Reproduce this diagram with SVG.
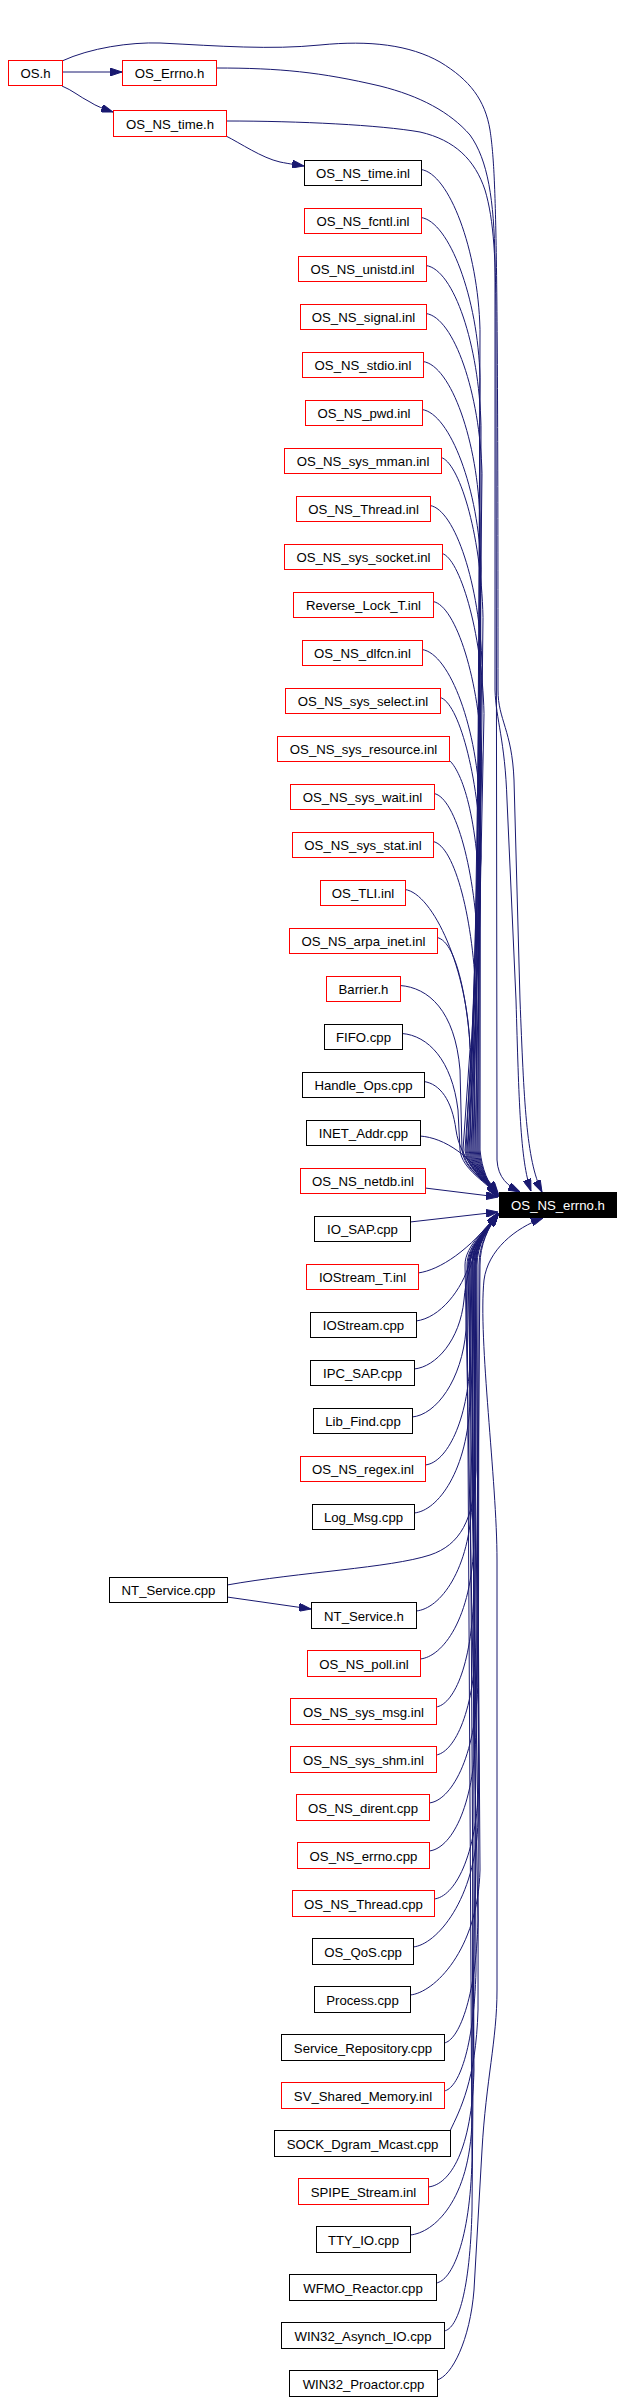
<svg xmlns="http://www.w3.org/2000/svg" width="623" height="2402" viewBox="0 0 623 2402">
<defs>
<style>
.r{fill:#fff;stroke:#ff0000;stroke-width:1}
.b{fill:#fff;stroke:#000;stroke-width:1}
.k{fill:#000;stroke:#000;stroke-width:1}
text{font-family:"Liberation Sans",Arial,Helvetica,sans-serif;font-size:13.2px;text-anchor:middle;fill:#000}
.w{fill:#fff}
.e path{fill:none;stroke:#191970;stroke-width:1;marker-end:url(#a)}
</style>
<marker id="a" viewBox="0 0 12 8" refX="12" refY="4" markerWidth="12" markerHeight="8" markerUnits="userSpaceOnUse" orient="auto"><path d="M0,0 L12,4 L0,8 z" fill="#191970" stroke="#191970" stroke-width="1"/></marker>
</defs>
<rect width="623" height="2402" fill="#fff"/>
<g class="e" id="edges">
<path d="M62,72 L122,72"/>
<path d="M62,86 C72,90 80,97 90,102 C96,106 104,109 113,112"/>
<path d="M226,136 C240,143 262,158 280,162 C290,164 298,165 304,166"/>
<path d="M227,1597 L311,1609"/>
<path d="M62,61 C90,48 130,42 160,43 C220,46 270,50 320,45 C370,40 410,45 440,62 C470,80 485,100 490,130 C496,170 498,230 498,690 C498,720 512,730 514,780 L520,1000 C524,1100 526,1160 542,1192"/>
<path d="M216,68 C280,68 320,72 380,86 C420,96 450,112 470,135 C488,160 494,200 495,260 L495,690 C496,720 505,740 507,800 L516,1000 C519,1100 520,1160 531,1191"/>
<path d="M226,121 C300,121 380,125 420,132 C455,140 475,160 485,190 C494,220 496,260 496,330 L497,1160 C498,1178 508,1186 520,1192"/>
<path d="M421,169.5 C449,173.5 478,249.5 480,329.5 L478,1150 C480,1170 488,1183 498,1195"/>
<path d="M421,217.5 C449,221.5 478,297.5 480,377.5 L476,1150 C478,1170 488,1183 498,1194"/>
<path d="M426,265.5 C454,269.5 479,345.5 481,425.5 L480,1150 C482,1170 488,1183 498,1196"/>
<path d="M426,313.5 C454,317.5 480,393.5 482,473.5 L474,1150 C476,1170 488,1183 498,1195"/>
<path d="M423,361.5 C451,365.5 478,441.5 480,521.5 L479,1150 C481,1170 488,1183 498,1197"/>
<path d="M422,409.5 C450,413.5 479,489.5 481,569.5 L472,1150 C474,1170 488,1183 498,1194"/>
<path d="M441,457.5 C458,461.5 481,530 483,617.5 L477,1150 C479,1170 488,1183 498,1196"/>
<path d="M430,505.5 C455,509.5 480,585.5 482,665.5 L470,1150 C472,1170 488,1183 498,1195"/>
<path d="M442,553.5 C459,557.5 482,630 484,713.5 L475,1150 C477,1170 488,1183 498,1197"/>
<path d="M433,601.5 C456,605.5 480,681.5 482,761.5 L468,1150 C470,1170 488,1183 498,1194"/>
<path d="M422,649.5 C450,653.5 478,729.5 480,809.5 L473,1150 C475,1170 488,1183 498,1196"/>
<path d="M440,697.5 C458,701.5 479,775 481,857.5 L466,1150 C468,1170 488,1183 498,1195"/>
<path d="M449,760 C458,768 476,800 480,900 L471,1150 C473,1170 488,1183 498,1197"/>
<path d="M434,793.5 C456,797.5 476,873.5 478,953.5 L465,1150 C467,1170 488,1183 498,1194"/>
<path d="M433,841.5 C455,845.5 474,921.5 476,1001.5 L469,1150 C471,1170 488,1183 498,1196"/>
<path d="M405,889.5 C433,893.5 468,969.5 470,1049.5 L463,1150 C465,1170 488,1183 498,1195"/>
<path d="M437,937.5 C458,941.5 470,1010 472,1080 L467,1150 C469,1170 488,1183 498,1197"/>
<path d="M400,985.5 C428,987.5 455,1010 460,1070 L462,1150 C464,1170 488,1183 498,1194"/>
<path d="M402,1033.5 C428,1035.5 452,1060 458,1110 L460,1150 C462,1170 488,1183 498,1196"/>
<path d="M424,1081.5 C440,1084 452,1100 456,1130 C460,1160 485,1182 498,1195"/>
<path d="M420,1136 C445,1138 470,1155 498,1193"/>
<path d="M425,1188 L498,1197"/>
<path d="M410,1222 L498,1212"/>
<path d="M418,1273 C440,1270 470,1250 498,1213"/>
<path d="M416,1321 C440,1318 462,1290 470,1262 C476,1240 488,1226 498,1214"/>
<path d="M414,1369 C436,1367 460,1340 464,1300 C467,1260 486,1228 498,1214"/>
<path d="M412,1417 C436,1415 462,1380 466,1330 L467,1275 C468,1245 488,1228 498,1215"/>
<path d="M425,1465 C447,1463 468,1420 470,1360 L470,1265 C470,1245 488,1228 498,1213"/>
<path d="M414,1513 C438,1511 468,1470 470,1400 L472,1265 C472,1245 488,1228 498,1214"/>
<path d="M227,1585 C300,1572 390,1568 430,1555 C460,1545 474,1520 476,1470 L475,1265 C475,1245 488,1228 498,1215"/>
<path d="M416,1611 C440,1609 470,1570 472,1500 L474,1265 C474,1245 488,1228 498,1213"/>
<path d="M420,1659 C442,1657 472,1620 474,1540 L476,1265 C476,1245 488,1228 498,1214"/>
<path d="M436,1707 C452,1705 472,1670 474,1590 L472,1265 C472,1245 488,1228 498,1215"/>
<path d="M436,1755 C452,1753 474,1718 476,1640 L474,1265 C474,1245 488,1228 498,1213"/>
<path d="M429,1803 C450,1801 476,1760 478,1680 L477,1265 C477,1245 488,1228 498,1214"/>
<path d="M429,1851 C450,1849 474,1810 476,1730 L470,1265 C470,1245 488,1228 498,1215"/>
<path d="M434,1899 C454,1897 477,1858 479,1780 L473,1265 C473,1245 488,1228 498,1213"/>
<path d="M413,1947 C436,1945 476,1900 478,1820 L468,1265 C468,1245 488,1228 498,1214"/>
<path d="M410,1995 C434,1993 478,1950 480,1870 L476,1265 C476,1245 488,1228 498,1215"/>
<path d="M444,2043 C458,2041 476,2000 478,1920 L465,1265 C465,1245 488,1228 498,1213"/>
<path d="M444,2091 C458,2089 474,2050 476,1970 L472,1265 C472,1245 488,1228 498,1214"/>
<path d="M450,2131 C460,2110 476,2080 478,2010 L479,1265 C479,1245 488,1228 498,1215"/>
<path d="M428,2187 C450,2185 472,2150 474,2070 L469,1265 C469,1245 488,1228 498,1213"/>
<path d="M410,2235 C434,2233 470,2200 472,2120 L475,1265 C475,1245 488,1228 498,1214"/>
<path d="M436,2283 C452,2281 470,2240 472,2160 L467,1265 C467,1245 488,1228 498,1215"/>
<path d="M444,2331 C458,2329 470,2290 472,2210 L480,1265 C480,1245 488,1228 498,1213"/>
<path d="M437,2380 C452,2376 470,2340 474,2290 L482,2150 C486,2080 497,2040 497,1990 L497,1560 C497,1480 478,1340 484,1280 C488,1250 515,1228 543,1218"/>
</g>
<g id="n_os_h"><rect class="r" x="8.5" y="60.5" width="54" height="25"/><text x="35.5" y="78">OS.h</text></g>
<g id="n_os_errno_h"><rect class="r" x="122.5" y="60.5" width="94" height="25"/><text x="169.5" y="78">OS_Errno.h</text></g>
<g id="n_os_ns_time_h"><rect class="r" x="113.5" y="110.5" width="113" height="26"/><text x="170" y="128.5">OS_NS_time.h</text></g>
<g id="n_time_inl"><rect class="b" x="304.5" y="160.5" width="117" height="25"/><text x="363" y="178">OS_NS_time.inl</text></g>
<g id="n_fcntl"><rect class="r" x="304.5" y="208.5" width="117" height="25"/><text x="363" y="226">OS_NS_fcntl.inl</text></g>
<g id="n_unistd"><rect class="r" x="298.5" y="256.5" width="128" height="25"/><text x="362.5" y="274">OS_NS_unistd.inl</text></g>
<g id="n_signal"><rect class="r" x="300.5" y="304.5" width="126" height="25"/><text x="363.5" y="322">OS_NS_signal.inl</text></g>
<g id="n_stdio"><rect class="r" x="302.5" y="352.5" width="121" height="25"/><text x="363" y="370">OS_NS_stdio.inl</text></g>
<g id="n_pwd"><rect class="r" x="305.5" y="400.5" width="117" height="25"/><text x="364" y="418">OS_NS_pwd.inl</text></g>
<g id="n_sys_mman"><rect class="r" x="284.5" y="448.5" width="157" height="25"/><text x="363" y="466">OS_NS_sys_mman.inl</text></g>
<g id="n_thread_inl"><rect class="r" x="296.5" y="496.5" width="134" height="25"/><text x="363.5" y="514">OS_NS_Thread.inl</text></g>
<g id="n_sys_socket"><rect class="r" x="284.5" y="544.5" width="158" height="25"/><text x="363.5" y="562">OS_NS_sys_socket.inl</text></g>
<g id="n_reverse_lock"><rect class="r" x="293.5" y="592.5" width="140" height="25"/><text x="363.5" y="610">Reverse_Lock_T.inl</text></g>
<g id="n_dlfcn"><rect class="r" x="302.5" y="640.5" width="120" height="25"/><text x="362.5" y="658">OS_NS_dlfcn.inl</text></g>
<g id="n_sys_select"><rect class="r" x="285.5" y="688.5" width="155" height="25"/><text x="363" y="706">OS_NS_sys_select.inl</text></g>
<g id="n_sys_resource"><rect class="r" x="277.5" y="736.5" width="172" height="25"/><text x="363.5" y="754">OS_NS_sys_resource.inl</text></g>
<g id="n_sys_wait"><rect class="r" x="290.5" y="784.5" width="144" height="25"/><text x="362.5" y="802">OS_NS_sys_wait.inl</text></g>
<g id="n_sys_stat"><rect class="r" x="292.5" y="832.5" width="141" height="25"/><text x="363" y="850">OS_NS_sys_stat.inl</text></g>
<g id="n_tli"><rect class="r" x="320.5" y="880.5" width="85" height="25"/><text x="363" y="898">OS_TLI.inl</text></g>
<g id="n_arpa_inet"><rect class="r" x="289.5" y="928.5" width="148" height="25"/><text x="363.5" y="946">OS_NS_arpa_inet.inl</text></g>
<g id="n_barrier"><rect class="r" x="326.5" y="976.5" width="74" height="25"/><text x="363.5" y="994">Barrier.h</text></g>
<g id="n_fifo"><rect class="b" x="324.5" y="1024.5" width="78" height="25"/><text x="363.5" y="1042">FIFO.cpp</text></g>
<g id="n_handle_ops"><rect class="b" x="302.5" y="1072.5" width="122" height="25"/><text x="363.5" y="1090">Handle_Ops.cpp</text></g>
<g id="n_inet_addr"><rect class="b" x="306.5" y="1120.5" width="114" height="25"/><text x="363.5" y="1138">INET_Addr.cpp</text></g>
<g id="n_netdb"><rect class="r" x="300.5" y="1168.5" width="125" height="25"/><text x="363" y="1186">OS_NS_netdb.inl</text></g>
<g id="n_io_sap"><rect class="b" x="314.5" y="1216.5" width="96" height="25"/><text x="362.5" y="1234">IO_SAP.cpp</text></g>
<g id="n_iostream_t"><rect class="r" x="306.5" y="1264.5" width="112" height="25"/><text x="362.5" y="1282">IOStream_T.inl</text></g>
<g id="n_iostream"><rect class="b" x="310.5" y="1312.5" width="106" height="25"/><text x="363.5" y="1330">IOStream.cpp</text></g>
<g id="n_ipc_sap"><rect class="b" x="310.5" y="1360.5" width="104" height="25"/><text x="362.5" y="1378">IPC_SAP.cpp</text></g>
<g id="n_lib_find"><rect class="b" x="313.5" y="1408.5" width="99" height="25"/><text x="363" y="1426">Lib_Find.cpp</text></g>
<g id="n_regex"><rect class="r" x="300.5" y="1456.5" width="125" height="25"/><text x="363" y="1474">OS_NS_regex.inl</text></g>
<g id="n_log_msg"><rect class="b" x="312.5" y="1504.5" width="102" height="25"/><text x="363.5" y="1522">Log_Msg.cpp</text></g>
<g id="n_nt_service_cpp"><rect class="b" x="109.5" y="1577.5" width="118" height="25"/><text x="168.5" y="1595">NT_Service.cpp</text></g>
<g id="n_nt_service_h"><rect class="b" x="311.5" y="1602.5" width="105" height="26"/><text x="364" y="1620.5">NT_Service.h</text></g>
<g id="n_poll"><rect class="r" x="307.5" y="1650.5" width="113" height="26"/><text x="364" y="1668.5">OS_NS_poll.inl</text></g>
<g id="n_sys_msg"><rect class="r" x="290.5" y="1698.5" width="146" height="26"/><text x="363.5" y="1716.5">OS_NS_sys_msg.inl</text></g>
<g id="n_sys_shm"><rect class="r" x="290.5" y="1746.5" width="146" height="26"/><text x="363.5" y="1764.5">OS_NS_sys_shm.inl</text></g>
<g id="n_dirent"><rect class="r" x="296.5" y="1794.5" width="133" height="26"/><text x="363" y="1812.5">OS_NS_dirent.cpp</text></g>
<g id="n_errno_cpp"><rect class="r" x="297.5" y="1842.5" width="132" height="26"/><text x="363.5" y="1860.5">OS_NS_errno.cpp</text></g>
<g id="n_thread_cpp"><rect class="r" x="292.5" y="1890.5" width="142" height="26"/><text x="363.5" y="1908.5">OS_NS_Thread.cpp</text></g>
<g id="n_qos"><rect class="b" x="312.5" y="1938.5" width="101" height="26"/><text x="363" y="1956.5">OS_QoS.cpp</text></g>
<g id="n_process"><rect class="b" x="314.5" y="1986.5" width="96" height="26"/><text x="362.5" y="2004.5">Process.cpp</text></g>
<g id="n_service_repo"><rect class="b" x="281.5" y="2034.5" width="163" height="26"/><text x="363" y="2052.5">Service_Repository.cpp</text></g>
<g id="n_sv_shared"><rect class="r" x="281.5" y="2082.5" width="163" height="26"/><text x="363" y="2100.5">SV_Shared_Memory.inl</text></g>
<g id="n_sock_dgram"><rect class="b" x="274.5" y="2130.5" width="176" height="26"/><text x="362.5" y="2148.5">SOCK_Dgram_Mcast.cpp</text></g>
<g id="n_spipe"><rect class="r" x="298.5" y="2178.5" width="130" height="26"/><text x="363.5" y="2196.5">SPIPE_Stream.inl</text></g>
<g id="n_tty_io"><rect class="b" x="316.5" y="2226.5" width="94" height="26"/><text x="363.5" y="2244.5">TTY_IO.cpp</text></g>
<g id="n_wfmo"><rect class="b" x="289.5" y="2274.5" width="147" height="26"/><text x="363" y="2292.5">WFMO_Reactor.cpp</text></g>
<g id="n_win32_asynch"><rect class="b" x="281.5" y="2322.5" width="163" height="26"/><text x="363" y="2340.5">WIN32_Asynch_IO.cpp</text></g>
<g id="n_win32_proactor"><rect class="b" x="289.5" y="2370.5" width="148" height="26"/><text x="363.5" y="2388.5">WIN32_Proactor.cpp</text></g>
<g id="n_os_ns_errno_h"><rect class="k" x="499.5" y="1192.5" width="117" height="25"/><text class="w" x="558" y="1210">OS_NS_errno.h</text></g>
</svg>
